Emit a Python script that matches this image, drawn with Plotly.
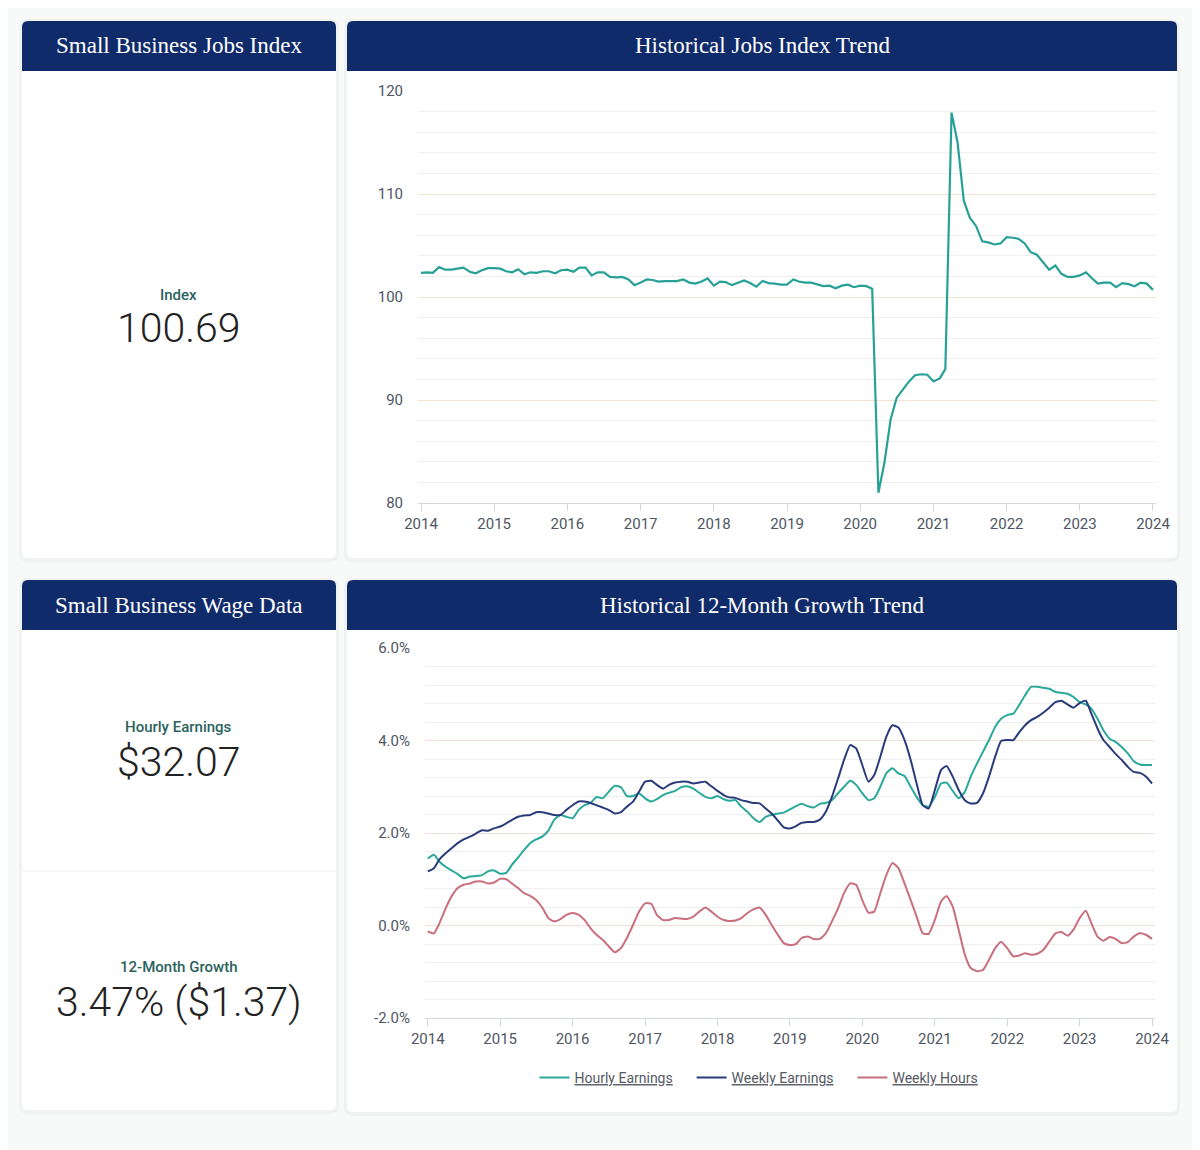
import pandas as pd
import plotly.graph_objects as go

W, H = 1200, 1150
PAGE_PAD = 8  # the page body adds 8px before the figure

# monthly points, Jan 2014 .. Jan 2024
months = pd.date_range("2014-01-01", "2024-01-01", freq="MS")

jobs_index = [
    102.35, 102.4, 102.35, 102.9, 102.65, 102.65, 102.75, 102.85, 102.45, 102.3, 102.6, 102.8,
    102.8, 102.75, 102.5, 102.4, 102.7, 102.2, 102.4, 102.35, 102.5, 102.5, 102.3, 102.6,
    102.65, 102.45, 102.85, 102.85, 102.1, 102.4, 102.4, 101.95, 101.9, 101.95, 101.7, 101.15,
    101.4, 101.7, 101.65, 101.5, 101.55, 101.55, 101.55, 101.7, 101.4, 101.3, 101.5, 101.8,
    101.1, 101.5, 101.45, 101.15, 101.4, 101.6, 101.35, 101.0, 101.55, 101.35, 101.3, 101.2,
    101.2, 101.7, 101.5, 101.4, 101.4, 101.2, 101.05, 101.1, 100.85, 101.1, 101.2, 100.95,
    101.1, 101.05, 100.8, 81.0, 83.9, 88.1, 90.2, 91.0, 91.8, 92.4, 92.5, 92.45,
    91.8, 92.1, 93.0, 117.9, 115.0, 109.35, 107.7, 106.9, 105.4, 105.3, 105.1, 105.2,
    105.8, 105.75, 105.65, 105.2, 104.35, 104.1, 103.4, 102.65, 103.05, 102.25, 101.95, 101.95,
    102.1, 102.4, 101.85, 101.3, 101.4, 101.4, 100.95, 101.35, 101.25, 101.05, 101.4, 101.3,
    100.69,
]

hourly_earnings = [
    1.45, 1.53, 1.38, 1.27, 1.19, 1.11, 1.02, 1.06, 1.07, 1.09, 1.17, 1.19,
    1.12, 1.14, 1.31, 1.47, 1.63, 1.78, 1.86, 1.92, 2.05, 2.29, 2.39, 2.35,
    2.32, 2.50, 2.60, 2.65, 2.78, 2.75, 2.89, 3.02, 2.99, 2.80, 2.80, 2.86,
    2.75, 2.68, 2.73, 2.82, 2.87, 2.91, 2.99, 3.01, 2.96, 2.87, 2.78, 2.75,
    2.80, 2.73, 2.70, 2.71, 2.57, 2.46, 2.32, 2.24, 2.35, 2.39, 2.42, 2.44,
    2.51, 2.58, 2.63, 2.58, 2.55, 2.63, 2.65, 2.71, 2.86, 3.00, 3.13, 3.04,
    2.86, 2.71, 2.75, 3.00, 3.29, 3.40, 3.29, 3.23, 3.00, 2.78, 2.60, 2.57,
    2.78, 3.07, 3.09, 2.91, 2.75, 2.89, 3.22, 3.50, 3.76, 4.01, 4.29, 4.47,
    4.55, 4.58, 4.76, 4.98, 5.16, 5.16, 5.14, 5.12, 5.05, 5.03, 5.01, 4.94,
    4.83, 4.78, 4.69, 4.47, 4.22, 4.04, 3.97, 3.86, 3.72, 3.55, 3.48, 3.47,
    3.47,
]

weekly_earnings = [
    1.17, 1.24, 1.43, 1.56, 1.67, 1.78, 1.86, 1.92, 1.99, 2.06, 2.05, 2.10,
    2.14, 2.21, 2.28, 2.35, 2.38, 2.39, 2.45, 2.45, 2.42, 2.39, 2.39, 2.50,
    2.60, 2.68, 2.68, 2.65, 2.60, 2.55, 2.50, 2.42, 2.45, 2.57, 2.68, 2.89,
    3.11, 3.13, 3.04, 2.96, 3.04, 3.09, 3.11, 3.11, 3.07, 3.09, 3.11, 3.01,
    2.91, 2.82, 2.77, 2.76, 2.71, 2.68, 2.65, 2.64, 2.53, 2.42, 2.27, 2.12,
    2.10, 2.15, 2.22, 2.24, 2.24, 2.29, 2.46, 2.78, 3.18, 3.58, 3.90, 3.83,
    3.47, 3.11, 3.25, 3.65, 4.08, 4.33, 4.28, 4.01, 3.58, 3.07, 2.60, 2.53,
    2.93, 3.36, 3.45, 3.22, 2.93, 2.71, 2.64, 2.65, 2.86, 3.22, 3.65, 3.99,
    4.01, 4.01, 4.17, 4.33, 4.44, 4.51, 4.60, 4.71, 4.83, 4.86, 4.78, 4.71,
    4.81, 4.86, 4.58, 4.26, 4.01, 3.86, 3.71, 3.58, 3.43, 3.32, 3.30, 3.22,
    3.07,
]

weekly_hours = [
    -0.13, -0.17, 0.05, 0.37, 0.63, 0.81, 0.88, 0.91, 0.95, 0.95, 0.91, 0.93,
    1.01, 1.00, 0.91, 0.81, 0.70, 0.64, 0.55, 0.39, 0.16, 0.09, 0.14, 0.23,
    0.27, 0.23, 0.12, -0.06, -0.20, -0.31, -0.45, -0.58, -0.49, -0.27, 0.01, 0.30,
    0.48, 0.47, 0.23, 0.12, 0.12, 0.16, 0.15, 0.14, 0.19, 0.30, 0.39, 0.30,
    0.19, 0.12, 0.10, 0.11, 0.16, 0.27, 0.35, 0.39, 0.23, 0.01, -0.20, -0.38,
    -0.42, -0.40, -0.27, -0.24, -0.29, -0.29, -0.17, 0.09, 0.37, 0.70, 0.91, 0.88,
    0.55, 0.28, 0.30, 0.70, 1.09, 1.35, 1.24, 0.91, 0.55, 0.19, -0.17, -0.18,
    0.12, 0.52, 0.64, 0.41, -0.09, -0.63, -0.92, -0.99, -0.96, -0.74, -0.49, -0.35,
    -0.49, -0.67, -0.65, -0.60, -0.63, -0.61, -0.53, -0.35, -0.17, -0.14, -0.22, -0.09,
    0.16, 0.32, 0.05, -0.24, -0.33, -0.25, -0.29, -0.38, -0.36, -0.24, -0.17, -0.20,
    -0.29,
]

growth_ticks = [-2, 0, 2, 4, 6]
growth_tick_text = ["-2.0%", "0.0%", "2.0%", "4.0%", "6.0%"]

NAVY = "#102b6a"
TEAL = "#27a195"
NAVY_LINE = "#2a3b7b"
PINK = "#c86f7e"
TICK_FONT = dict(family="Roboto", size=15, color="#4f5663")


def fx(x):
    return (x - PAGE_PAD) / W


def fy(y):
    return 1 - (y - PAGE_PAD) / H


def rounded(x0, y0, x1, y1, r, round_bottom=True):
    rb = r if round_bottom else 0
    pts = [
        ("M", x0 + r, y0), ("L", x1 - r, y0), ("Q", x1, y0, x1, y0 + r),
        ("L", x1, y1 - rb), ("Q", x1, y1, x1 - rb, y1), ("L", x0 + rb, y1),
        ("Q", x0, y1, x0, y1 - rb), ("L", x0, y0 + r), ("Q", x0, y0, x0 + r, y0),
    ]
    out = []
    for p in pts:
        cmd, coords = p[0], p[1:]
        xy = " ".join(f"{fx(coords[i]):.5f},{fy(coords[i + 1]):.5f}" for i in range(0, len(coords), 2))
        out.append(f"{cmd} {xy}")
    return " ".join(out) + " Z"


shapes = []
headers = []
cards = [
    (22, 21, 336, 558, "Small Business Jobs Index"),
    (347, 21, 1177, 558, "Historical Jobs Index Trend"),
    (22, 580, 336, 1110, "Small Business Wage Data"),
    (347, 580, 1177, 1112, "Historical 12-Month Growth Trend"),
]
for x0, y0, x1, y1, title in cards:
    shapes.append(dict(type="path", xref="paper", yref="paper", layer="below",
                       path=rounded(x0 - 3, y0 - 2, x1 + 3, y1 + 4, 9),
                       fillcolor="rgba(0,0,0,0.03)", line=dict(width=0)))
    shapes.append(dict(type="path", xref="paper", yref="paper", layer="below",
                       path=rounded(x0, y0, x1, y1, 6),
                       fillcolor="white", line=dict(width=0)))
    shapes.append(dict(type="path", xref="paper", yref="paper", layer="below",
                       path=rounded(x0, y0, x1, y0 + 50, 6, round_bottom=False),
                       fillcolor=NAVY, line=dict(width=0)))
    headers.append(dict(x=fx((x0 + x1) / 2), y=fy(y0 + 25), xref="paper", yref="paper",
                        text=title, showarrow=False, xanchor="center", yanchor="middle",
                        font=dict(family="Liberation Serif", size=23, color="white")))

# divider inside the wage data card
shapes.append(dict(type="line", xref="paper", yref="paper", layer="below",
                   x0=fx(22), x1=fx(336), y0=fy(871), y1=fy(871),
                   line=dict(color="#eeeeee", width=1)))

kpis = [
    (295, "Index", 328, "100.69"),
    (727, "Hourly Earnings", 762, "$32.07"),
    (967, "12-Month Growth", 1002, "3.47% ($1.37)"),
]
for ly, label, vy, value in kpis:
    headers.append(dict(x=fx(179), y=fy(ly), xref="paper", yref="paper", text=label,
                        showarrow=False, xanchor="center", yanchor="middle",
                        font=dict(family="Roboto", size=15, color="#2c625d", weight=500)))
    headers.append(dict(x=fx(179), y=fy(vy), xref="paper", yref="paper", text=value,
                        showarrow=False, xanchor="center", yanchor="middle",
                        font=dict(family="Roboto", size=41, color="#222222", weight=300)))

fig = go.Figure()

fig.add_trace(go.Scatter(x=months, y=jobs_index, mode="lines", name="Index",
                         line=dict(color=TEAL, width=2.2), showlegend=False,
                         xaxis="x", yaxis="y"))

gap = "&nbsp;" * 4
for name, vals, color in [
    ("<u>Hourly Earnings</u>" + gap, hourly_earnings, "#2aa99a"),
    ("<u>Weekly Earnings</u>" + gap, weekly_earnings, NAVY_LINE),
    ("<u>Weekly Hours</u>", weekly_hours, PINK),
]:
    fig.add_trace(go.Scatter(x=months, y=vals, mode="lines", name=name,
                             line=dict(color=color, width=2, shape="spline", smoothing=0.5),
                             xaxis="x2", yaxis="y2"))

common_x = dict(
    type="date", dtick="M12", tickformat="%Y", showgrid=False, zeroline=False,
    showline=True, linecolor="#d3d7de", linewidth=1, automargin=False,
    ticks="outside", ticklen=7, tickcolor="#d3d7de", tickfont=TICK_FONT,
)

fig.update_layout(
    template="none",
    width=W, height=H,
    margin=dict(l=0, r=0, t=0, b=0, pad=0, autoexpand=False),
    paper_bgcolor="#f8f9f9",
    plot_bgcolor="rgba(0,0,0,0)",
    shapes=shapes,
    annotations=headers,
    xaxis=dict(common_x, domain=[fx(418), fx(1156)],
               range=["2013-12-17", "2024-01-16"], anchor="y"),
    yaxis=dict(domain=[fy(503), fy(91)], range=[80, 120], dtick=10, tick0=80,
               gridcolor="#f3e3cf", gridwidth=1, zeroline=False, showline=False,
               automargin=False, ticks="",
               tickfont=TICK_FONT, ticklabelstandoff=14, anchor="x",
               minor=dict(dtick=2, tick0=80, showgrid=True, gridcolor="#efefef", gridwidth=1)),
    xaxis2=dict(common_x, domain=[fx(425), fx(1155)],
                range=["2013-12-18", "2024-01-16"], anchor="y2"),
    yaxis2=dict(domain=[fy(1018), fy(648)], range=[-2, 6],
                tickmode="array", tickvals=growth_ticks, ticktext=growth_tick_text,
                gridcolor="#f2e0d6", gridwidth=1, zeroline=False, showline=False,
                automargin=False, ticks="",
                tickfont=TICK_FONT, ticklabelstandoff=14, anchor="x2",
                minor=dict(tickmode="linear", tick0=-2, dtick=0.4, showgrid=True,
                           gridcolor="#efefef", gridwidth=1)),
    legend=dict(orientation="h", x=fx(759), xanchor="center", y=fy(1078), yanchor="middle",
                font=dict(family="Roboto", size=14, color="#555a63"),
                bgcolor="rgba(0,0,0,0)", itemwidth=30, tracegroupgap=0),
    hovermode="x unified",
)

fig.write_html("out.html")
